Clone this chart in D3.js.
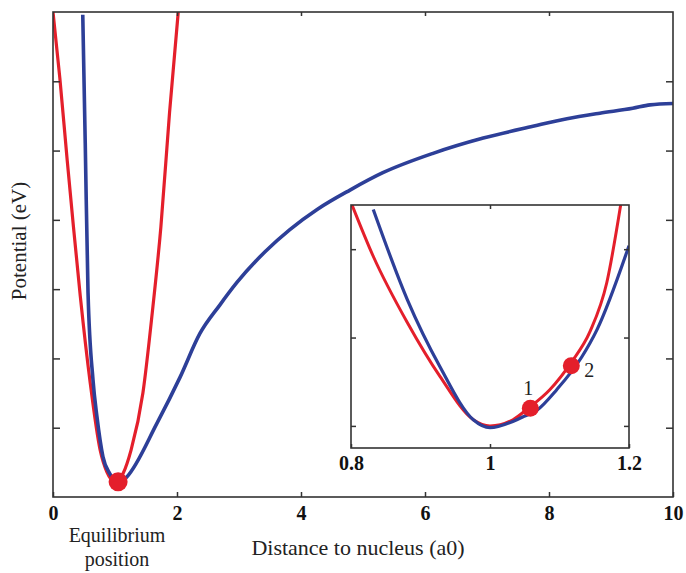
<!DOCTYPE html>
<html>
<head>
<meta charset="utf-8">
<script src="https://cdn.jsdelivr.net/npm/d3@7"></script>
<style>
  body { margin: 0; background: #fff; }
  text { font-family: "Liberation Serif", "DejaVu Serif", serif; }
</style>
</head>
<body>
<div id="chart"></div>
<script>
// main panel ticks
const mainXTicks = [0, 2, 4, 6, 8, 10];
const mainYTicks = [1, 2, 3, 4, 5, 6];

// harmonic approximation (red), main panel  [distance, potential]
const redMain = [
  [0, 7.0], [0.11, 6.05], [0.23, 4.85], [0.33, 3.9], [0.44, 2.9], [0.6, 1.65],
  [0.76, 0.68], [0.87, 0.36], [1.0, 0.22], [1.13, 0.34], [1.26, 0.68],
  [1.45, 1.5], [1.6, 2.65], [1.74, 3.9], [1.88, 5.55], [2.02, 7.0]
];

// actual potential (blue), main panel
const blueMain = [
  [0.48, 6.96], [0.52, 5.11], [0.565, 2.95], [0.645, 1.69], [0.71, 1.15],
  [0.806, 0.58], [0.92, 0.33], [1.05, 0.19], [1.19, 0.29], [1.68, 1.07],
  [2.05, 1.73], [2.37, 2.36], [2.69, 2.77], [2.97, 3.1], [3.42, 3.54],
  [3.82, 3.86], [4.26, 4.15], [4.79, 4.43], [5.32, 4.68], [6.13, 4.96],
  [6.94, 5.18], [7.74, 5.35], [8.29, 5.46], [8.82, 5.54], [9.35, 5.61],
  [9.63, 5.66], [10.0, 5.68]
];

const mainDot = [[1.05, 0.22]];

// inset ticks
const insetXTicks = [0.8, 1, 1.2];
const insetYTicks = [0, 1, 2];

const redInset = [
  [0.801, 2.51], [0.832, 1.92], [0.881, 1.17], [0.928, 0.56], [0.976, 0.07],
  [1.0, 0.0], [1.033, 0.07], [1.055, 0.2], [1.086, 0.41], [1.117, 0.72],
  [1.144, 1.07], [1.168, 1.62], [1.188, 2.5]
];

const blueInset = [
  [0.832, 2.45], [0.881, 1.43], [0.928, 0.67], [0.976, 0.07], [1.0, -0.02],
  [1.047, 0.1], [1.068, 0.18], [1.096, 0.41], [1.132, 0.78], [1.154, 1.09],
  [1.2, 2.04]
];

const insetDots = [
  { label: '1', x: 1.058, y: 0.2, dx: -2, dy: -13 },
  { label: '2', x: 1.117, y: 0.68, dx: 18, dy: 11 }
];

const red = '#e41f2b';
const blue = '#2d3f98';
const axisColor = '#333';

const width = 686, height = 573;
const margin = { top: 12, right: 13, bottom: 76, left: 53 };

const svg = d3.select('#chart')
    .append('svg')
    .attr('width', width)
    .attr('height', height);

// Main scales
const x = d3.scaleLinear().domain([0, 10]).range([margin.left, width - margin.right]);
const y = d3.scaleLinear().domain([0, 7]).range([height - margin.bottom, margin.top]);

svg.append('clipPath').attr('id', 'mainClip')
    .append('rect')
    .attr('x', x(0)).attr('y', y(7))
    .attr('width', x(10) - x(0)).attr('height', y(0) - y(7));

const line = d3.line()
    .x(d => x(d[0]))
    .y(d => y(d[1]))
    .curve(d3.curveMonotoneX);

const mainG = svg.append('g').attr('clip-path', 'url(#mainClip)');

mainG.append('path')
    .datum(redMain)
    .attr('fill', 'none')
    .attr('stroke', red)
    .attr('stroke-width', 3.2)
    .attr('d', line);

mainG.append('path')
    .datum(blueMain)
    .attr('fill', 'none')
    .attr('stroke', blue)
    .attr('stroke-width', 3.6)
    .attr('d', line);

// axes (ticks pointing inward)
function styleAxis(g) {
    g.select('.domain').remove();
    g.selectAll('.tick line').attr('stroke', axisColor).attr('stroke-width', 1.5);
}

svg.append('g')
    .attr('transform', `translate(0,${y(0)})`)
    .call(d3.axisBottom(x).tickValues(mainXTicks).tickSize(-5).tickPadding(9))
    .call(styleAxis)
    .selectAll('text')
    .style('font-size', '20px')
    .style('font-weight', 'bold')
    .attr('fill', '#111');

svg.append('g')
    .attr('transform', `translate(0,${y(7)})`)
    .call(d3.axisTop(x).tickValues(mainXTicks.slice(1, -1)).tickSize(-4).tickFormat(''))
    .call(styleAxis);

svg.append('g')
    .attr('transform', `translate(${x(0)},0)`)
    .call(d3.axisLeft(y).tickValues(mainYTicks).tickSize(-7).tickFormat(''))
    .call(styleAxis);

svg.append('g')
    .attr('transform', `translate(${x(10)},0)`)
    .call(d3.axisRight(y).tickValues(mainYTicks).tickSize(-7).tickFormat(''))
    .call(styleAxis);

svg.append('rect')
    .attr('x', x(0)).attr('y', y(7))
    .attr('width', x(10) - x(0)).attr('height', y(0) - y(7))
    .attr('fill', 'none')
    .attr('stroke', axisColor)
    .attr('stroke-width', 1.6);

svg.selectAll('.main-dot')
    .data(mainDot)
    .enter()
    .append('circle')
    .attr('class', 'main-dot')
    .attr('cx', d => x(d[0]))
    .attr('cy', d => y(d[1]))
    .attr('r', 9.5)
    .attr('fill', red);

// Axis titles
svg.append('text')
    .attr('x', 358).attr('y', 555)
    .attr('text-anchor', 'middle')
    .style('font-size', '22px')
    .attr('fill', '#222')
    .text('Distance to nucleus (a0)');

svg.append('text')
    .attr('transform', 'translate(26,241) rotate(-90)')
    .attr('text-anchor', 'middle')
    .style('font-size', '21px')
    .attr('fill', '#222')
    .text('Potential (eV)');

svg.append('text')
    .attr('x', 117).attr('y', 542)
    .attr('text-anchor', 'middle')
    .style('font-size', '20px')
    .attr('fill', '#222')
    .text('Equilibrium');

svg.append('text')
    .attr('x', 117).attr('y', 566)
    .attr('text-anchor', 'middle')
    .style('font-size', '20px')
    .attr('fill', '#222')
    .text('position');

// Inset
const xi = d3.scaleLinear().domain([0.8, 1.2]).range([351, 629]);
const yi = d3.scaleLinear().domain([-0.25, 2.5]).range([448, 205]);

svg.append('rect')
    .attr('x', xi(0.8)).attr('y', yi(2.5))
    .attr('width', xi(1.2) - xi(0.8)).attr('height', yi(-0.25) - yi(2.5))
    .attr('fill', '#fff');

svg.append('clipPath').attr('id', 'insetClip')
    .append('rect')
    .attr('x', xi(0.8)).attr('y', yi(2.5))
    .attr('width', xi(1.2) - xi(0.8)).attr('height', yi(-0.25) - yi(2.5));

const insetLine = d3.line()
    .x(d => xi(d[0]))
    .y(d => yi(d[1]))
    .curve(d3.curveMonotoneX);

const insetG = svg.append('g').attr('clip-path', 'url(#insetClip)');

insetG.append('path')
    .datum(redInset)
    .attr('fill', 'none')
    .attr('stroke', red)
    .attr('stroke-width', 3)
    .attr('d', insetLine);

insetG.append('path')
    .datum(blueInset)
    .attr('fill', 'none')
    .attr('stroke', blue)
    .attr('stroke-width', 3.2)
    .attr('d', insetLine);

svg.append('g')
    .attr('transform', `translate(0,${yi(-0.25)})`)
    .call(d3.axisBottom(xi).tickValues(insetXTicks).tickSize(-4).tickPadding(8)
        .tickFormat(d3.format('')))
    .call(styleAxis)
    .selectAll('text')
    .style('font-size', '20px')
    .style('font-weight', 'bold')
    .attr('fill', '#111');

svg.append('g')
    .attr('transform', `translate(0,${yi(2.5)})`)
    .call(d3.axisTop(xi).tickValues([1]).tickSize(-4).tickFormat(''))
    .call(styleAxis);

svg.append('g')
    .attr('transform', `translate(${xi(0.8)},0)`)
    .call(d3.axisLeft(yi).tickValues(insetYTicks).tickSize(-5).tickFormat(''))
    .call(styleAxis);

svg.append('g')
    .attr('transform', `translate(${xi(1.2)},0)`)
    .call(d3.axisRight(yi).tickValues(insetYTicks).tickSize(-5).tickFormat(''))
    .call(styleAxis);

svg.append('rect')
    .attr('x', xi(0.8)).attr('y', yi(2.5))
    .attr('width', xi(1.2) - xi(0.8)).attr('height', yi(-0.25) - yi(2.5))
    .attr('fill', 'none')
    .attr('stroke', axisColor)
    .attr('stroke-width', 1.6);

svg.selectAll('.inset-dot')
    .data(insetDots)
    .enter()
    .append('circle')
    .attr('class', 'inset-dot')
    .attr('cx', d => xi(d.x))
    .attr('cy', d => yi(d.y))
    .attr('r', 8.5)
    .attr('fill', red);

svg.selectAll('.inset-label')
    .data(insetDots)
    .enter()
    .append('text')
    .attr('class', 'inset-label')
    .attr('x', d => xi(d.x) + d.dx)
    .attr('y', d => yi(d.y) + d.dy)
    .attr('text-anchor', 'middle')
    .style('font-size', '20px')
    .attr('fill', '#222')
    .text(d => d.label);
</script>
</body>
</html>
